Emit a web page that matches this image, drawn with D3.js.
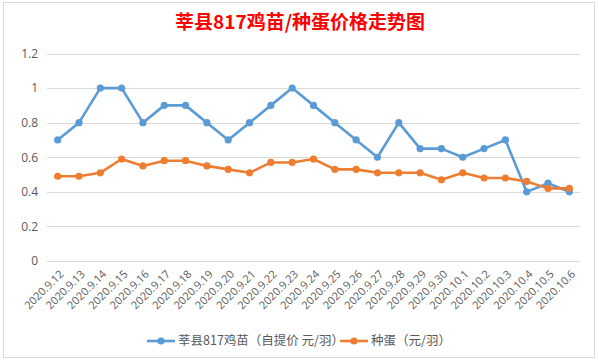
<!DOCTYPE html>
<html><head><meta charset="utf-8">
<script src="https://cdn.jsdelivr.net/npm/d3@7"></script>
<style>body{margin:0;background:#fff}svg{display:block}</style>
</head><body>
<svg id="c" width="599" height="361"></svg>
<script>
const categories = ["2020.9.12","2020.9.13","2020.9.14","2020.9.15","2020.9.16","2020.9.17","2020.9.18","2020.9.19","2020.9.20","2020.9.21","2020.9.22","2020.9.23","2020.9.24","2020.9.25","2020.9.26","2020.9.27","2020.9.28","2020.9.29","2020.9.30","2020.10.1","2020.10.2","2020.10.3","2020.10.4","2020.10.5","2020.10.6"];
const chickValues = [0.7,0.8,1.0,1.0,0.8,0.9,0.9,0.8,0.7,0.8,0.9,1.0,0.9,0.8,0.7,0.6,0.8,0.65,0.65,0.6,0.65,0.7,0.4,0.45,0.4];
const eggValues = [0.49,0.49,0.51,0.59,0.55,0.58,0.58,0.55,0.53,0.51,0.57,0.57,0.59,0.53,0.53,0.51,0.51,0.51,0.47,0.51,0.48,0.48,0.46,0.42,0.42];
const yTicks = [0,0.2,0.4,0.6,0.8,1,1.2];
const seriesNames = ["莘县817鸡苗（自提价 元/羽）","种蛋（元/羽）"];
const title = "莘县817鸡苗/种蛋价格走势图";

const svg = d3.select("#c");
const font = "'Noto Sans CJK SC','Open Sans',sans-serif";
const numFont = "'Open Sans','Noto Sans',sans-serif";
const textColor = "#595959";
const colors = ["#5B9BD5","#ED7D31"];

// frame
svg.append("rect").attr("x",3.5).attr("y",2.5).attr("width",591).attr("height",355)
  .attr("fill","#fff").attr("stroke","#D9D9D9");

const x = d3.scaleBand().domain(categories).range([47,580]);
const y = d3.scaleLinear().domain([0,1.2]).range([261,53.5]);

// gridlines
svg.append("g").selectAll("line").data(yTicks).join("line")
  .attr("x1",47).attr("x2",580)
  .attr("y1",d=>Math.round(y(d))+0.5).attr("y2",d=>Math.round(y(d))+0.5)
  .attr("stroke","#D9D9D9").attr("stroke-width",1);

// y axis labels
const yAxis = d3.axisLeft(y).tickValues(yTicks).tickSize(0).tickPadding(0).tickFormat(d3.format("~g"));
const yg = svg.append("g").attr("transform","translate(38,0)").call(yAxis);
yg.select(".domain").remove();
yg.selectAll("text").attr("fill",textColor).style("font-family",numFont).style("font-size","12px");

// x axis labels
const xAxis = d3.axisBottom(x).tickSize(0).tickPadding(0);
const xg = svg.append("g").attr("transform","translate(0,261)").call(xAxis);
xg.select(".domain").remove();
xg.selectAll("text").attr("fill",textColor).style("font-family",numFont).style("font-size","11px")
  .attr("text-anchor","end").attr("dy","0.35em")
  .attr("transform","translate(4,11) rotate(-45)");

// lines
const series = [chickValues, eggValues];
series.forEach((vals,i)=>{
  const line = d3.line().x((d,j)=>x(categories[j])+x.bandwidth()/2).y(d=>y(d));
  svg.append("path").datum(vals).attr("d",line).attr("fill","none")
    .attr("stroke",colors[i]).attr("stroke-width",2.6).attr("stroke-linejoin","round");
  svg.append("g").selectAll("circle").data(vals).join("circle")
    .attr("cx",(d,j)=>x(categories[j])+x.bandwidth()/2).attr("cy",d=>y(d))
    .attr("r",3.6).attr("fill",colors[i]);
});

// title
svg.append("text").attr("x",300).attr("y",29).attr("text-anchor","middle")
  .attr("fill","#FF0000").style("font-family","'Noto Sans CJK SC',sans-serif")
  .style("font-weight","bold").style("font-size","19px").text(title);

// legend
const legX = [147,340];
seriesNames.forEach((n,i)=>{
  const g = svg.append("g").attr("transform",`translate(${legX[i]},341)`);
  g.append("line").attr("x1",0).attr("x2",28).attr("y1",0).attr("y2",0)
    .attr("stroke",colors[i]).attr("stroke-width",2.6);
  g.append("circle").attr("cx",14).attr("cy",0).attr("r",3.6).attr("fill",colors[i]);
  g.append("text").attr("x",31).attr("y",0).attr("dy","0.35em").attr("fill",textColor)
    .style("font-family",font).style("font-size","12.5px").text(n);
});
</script>
</body></html>
